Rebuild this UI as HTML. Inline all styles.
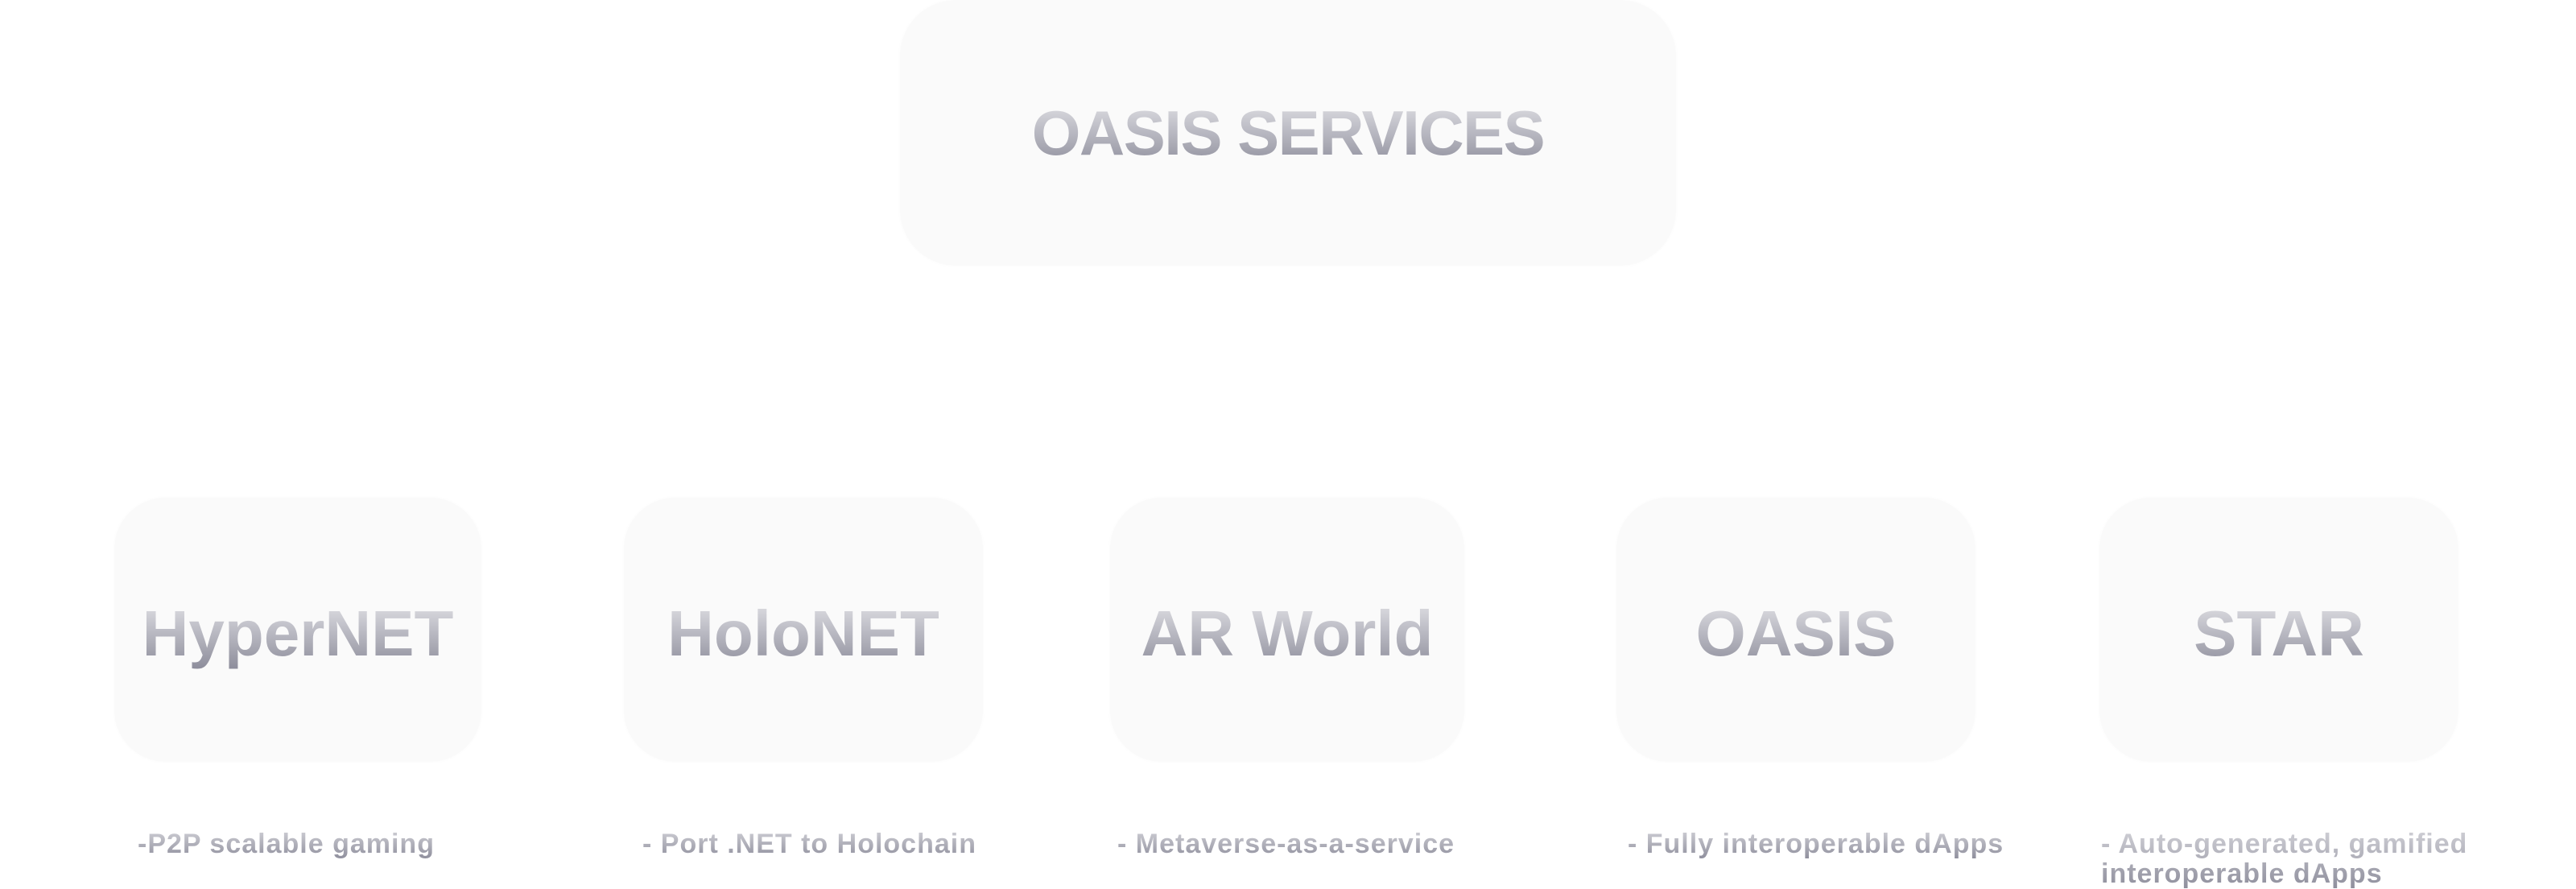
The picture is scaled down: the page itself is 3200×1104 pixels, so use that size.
<!DOCTYPE html>
<html><head><meta charset="utf-8"><style>
html,body{margin:0;padding:0;background:#fff;}
body{width:3200px;height:1104px;position:relative;overflow:hidden;font-family:"Liberation Sans",sans-serif;}
.box{position:absolute;background:#fafafa;border-radius:64px;box-shadow:0 0 3px 1px #fcfcfc;}
.t{position:absolute;left:0;right:0;text-align:center;font-weight:bold;
 background:linear-gradient(to bottom,#e4e4e8 0%,#8c8c9a 100%);-webkit-background-clip:text;background-clip:text;color:transparent;white-space:nowrap;}
.d{position:absolute;font-weight:bold;font-size:34px;line-height:37px;letter-spacing:1px;white-space:nowrap;
 background:linear-gradient(to bottom,#d0d0d6 0%,#8e8e9c 100%);-webkit-background-clip:text;background-clip:text;color:transparent;}
</style></head><body>
<div class="box" style="left:1118px;top:0;width:964px;height:330px;border-radius:70px;">
 <div class="t" style="top:120px;font-size:78px;line-height:90px;letter-spacing:-1.5px;">OASIS SERVICES</div>
</div>
<div class="box" style="left:142px;top:618px;width:456px;height:328px;"><div class="t" style="top:124px;font-size:80px;line-height:90px;">HyperNET</div></div>
<div class="box" style="left:775px;top:618px;width:446px;height:328px;"><div class="t" style="top:124px;font-size:80px;line-height:90px;">HoloNET</div></div>
<div class="box" style="left:1379px;top:618px;width:440px;height:328px;"><div class="t" style="top:124px;font-size:80px;line-height:90px;">AR World</div></div>
<div class="box" style="left:2008px;top:618px;width:446px;height:328px;"><div class="t" style="top:124px;font-size:80px;line-height:90px;">OASIS</div></div>
<div class="box" style="left:2608px;top:618px;width:446px;height:328px;"><div class="t" style="top:124px;font-size:80px;line-height:90px;">STAR</div></div>
<div class="d" style="left:171px;top:1030px;">-P2P scalable gaming</div>
<div class="d" style="left:798px;top:1030px;">- Port .NET to Holochain</div>
<div class="d" style="left:1388px;top:1030px;">- Metaverse-as-a-service</div>
<div class="d" style="left:2022px;top:1030px;">- Fully interoperable dApps</div>
<div class="d" style="left:2610px;top:1030px;">- Auto-generated, gamified<br>interoperable dApps</div>
</body></html>
